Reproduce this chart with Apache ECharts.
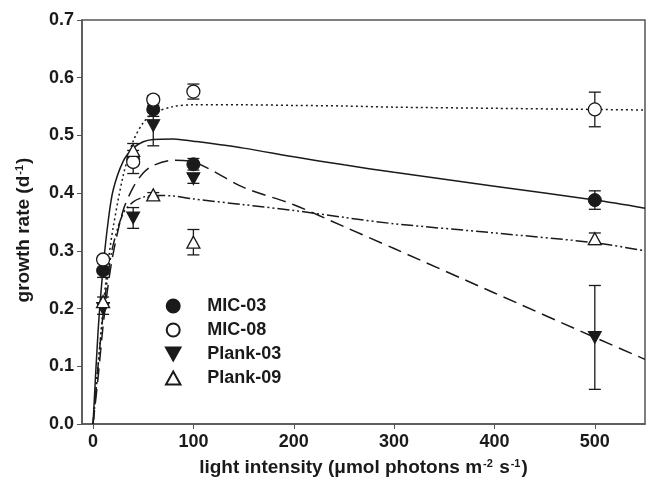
<!DOCTYPE html>
<html>
<head>
<meta charset="utf-8">
<script src="https://cdn.jsdelivr.net/npm/echarts@6/dist/echarts.min.js"></script>
<style>
  html, body { margin: 0; padding: 0; background: #fff; }
  #chart { width: 649px; height: 488px; }
</style>
</head>
<body>
<div id="chart"></div>
<script>
// measured points (light level, mean growth rate, error)
const lightLevels = [10, 40, 60, 100, 500];
const mic03Rate = [0.266, 0.458, 0.545, 0.45, 0.388];
const mic03Err = [0.012, 0.008, 0.012, 0.01, 0.016];
const mic08Rate = [0.285, 0.454, 0.562, 0.576, 0.545];
const mic08Err = [0.006, 0.02, 0.007, 0.013, 0.03];
const plank03Rate = [0.2, 0.357, 0.517, 0.425, 0.15];
const plank03Err = [0.01, 0.018, 0.035, 0.008, 0.09];
const plank09Rate = [0.212, 0.474, 0.397, 0.315, 0.321];
const plank09Err = [0.008, 0.012, 0.004, 0.022, 0.01];

// fitted curves
const fitX = [0, 5, 10, 15, 20, 30, 40, 50, 60, 80, 100, 150, 200, 250, 300, 400, 500, 550];
const fitMic03 = [0, 0.16, 0.27, 0.35, 0.405, 0.455, 0.478, 0.489, 0.493, 0.494, 0.49, 0.478, 0.463, 0.449, 0.436, 0.412, 0.388, 0.374];
const fitMic08 = [0, 0.1, 0.2, 0.28, 0.34, 0.43, 0.49, 0.522, 0.538, 0.55, 0.553, 0.553, 0.552, 0.551, 0.549, 0.547, 0.545, 0.544];
const fitPlank03 = [0, 0.08, 0.17, 0.24, 0.295, 0.37, 0.41, 0.435, 0.448, 0.457, 0.454, 0.41, 0.38, 0.342, 0.304, 0.227, 0.15, 0.112];
const fitPlank09 = [0, 0.1, 0.19, 0.26, 0.31, 0.365, 0.385, 0.393, 0.396, 0.395, 0.39, 0.38, 0.37, 0.358, 0.347, 0.331, 0.314, 0.3];

const xTicks = [0, 100, 200, 300, 400, 500];

const font = 'Liberation Sans, Arial, sans-serif';
const ink = '#1a1a1a';
const downTriangle = 'path://M0,0 L10,0 L5,9 Z';
const upTriangle = 'path://M5,0 L10,9 L0,9 Z';

function pairs(xs, ys) {
  return xs.map((x, i) => [x, ys[i]]);
}

function errData(rates, errs) {
  return lightLevels.map((x, i) => [x, rates[i] - errs[i], rates[i] + errs[i]]);
}

function errorBars(rates, errs) {
  return {
    type: 'custom',
    silent: true,
    z: 3,
    data: errData(rates, errs),
    renderItem(params, api) {
      const lo = api.coord([api.value(0), api.value(1)]);
      const hi = api.coord([api.value(0), api.value(2)]);
      const w = 6;
      const style = { stroke: ink, lineWidth: 1.3 };
      return {
        type: 'group',
        children: [
          { type: 'line', shape: { x1: lo[0], y1: lo[1], x2: hi[0], y2: hi[1] }, style },
          { type: 'line', shape: { x1: lo[0] - w, y1: lo[1], x2: lo[0] + w, y2: lo[1] }, style },
          { type: 'line', shape: { x1: hi[0] - w, y1: hi[1], x2: hi[0] + w, y2: hi[1] }, style }
        ]
      };
    }
  };
}

function fitLine(ys, dash) {
  return {
    type: 'line',
    data: pairs(fitX, ys),
    symbol: 'none',
    smooth: 0.3,
    silent: true,
    z: 2,
    lineStyle: { color: ink, width: 1.5, type: dash }
  };
}

const chart = echarts.init(document.getElementById('chart'));

const option = {
  animation: false,
  backgroundColor: '#fff',
  grid: {
    left: 82, right: 4, top: 20, bottom: 64,
    show: true, borderColor: '#555', borderWidth: 1.5
  },
  legend: {
    orient: 'vertical',
    left: 160,
    top: 292,
    itemWidth: 30,
    itemHeight: 13,
    itemGap: 6,
    data: ['MIC-03', 'MIC-08', 'Plank-03', 'Plank-09'],
    textStyle: { fontFamily: font, fontWeight: 'bold', fontSize: 18, color: ink, padding: [0, 0, 0, 14] }
  },
  xAxis: {
    type: 'value',
    min: -11,
    max: 550,
    name: 'light intensity (\u03bcmol photons m{s|-2} s{s|-1})',
    nameLocation: 'middle',
    nameGap: 34,
    nameTextStyle: {
      fontFamily: font, fontWeight: 'bold', fontSize: 19, color: ink,
      rich: { s: { fontFamily: font, fontWeight: 'bold', fontSize: 11, color: ink, verticalAlign: 'top', padding: [0, 1, 9, 1] } }
    },
    splitLine: { show: false },
    axisLine: { onZero: false, lineStyle: { color: '#555', width: 1.5 } },
    axisTick: { customValues: xTicks, length: 5, lineStyle: { color: '#555' } },
    axisLabel: {
      customValues: xTicks, margin: 9,
      fontFamily: font, fontWeight: 'bold', fontSize: 18, color: ink
    }
  },
  yAxis: {
    type: 'value',
    min: 0,
    max: 0.7,
    interval: 0.1,
    name: '{a|growth rate (d}{s|-1}{a|)}',
    nameLocation: 'middle',
    nameRotate: 90,
    nameGap: 48,
    nameTextStyle: {
      padding: [0, 16, 0, 0],
      rich: {
        a: { fontFamily: font, fontWeight: 'bold', fontSize: 19, color: ink },
        s: { fontFamily: font, fontWeight: 'bold', fontSize: 11, color: ink, padding: [0, 1, 9, 1] }
      }
    },
    splitLine: { show: false },
    axisLine: { show: true, onZero: false, lineStyle: { color: '#555', width: 1.5 } },
    axisTick: { show: true, length: 5, lineStyle: { color: '#555' } },
    axisLabel: {
      margin: 8,
      formatter: v => v.toFixed(1),
      fontFamily: font, fontWeight: 'bold', fontSize: 18, color: ink
    }
  },
  series: [
    fitLine(fitMic03, 'solid'),
    fitLine(fitMic08, [2, 3]),
    fitLine(fitPlank03, [14, 7]),
    fitLine(fitPlank09, [12, 3, 2, 3, 2, 3]),
    errorBars(mic03Rate, mic03Err),
    errorBars(mic08Rate, mic08Err),
    errorBars(plank03Rate, plank03Err),
    errorBars(plank09Rate, plank09Err),
    {
      name: 'MIC-03', type: 'scatter', z: 4,
      data: pairs(lightLevels, mic03Rate),
      symbol: 'circle', symbolSize: 13,
      itemStyle: { color: ink, borderColor: ink, borderWidth: 1, opacity: 1 }
    },
    {
      name: 'MIC-08', type: 'scatter', z: 5,
      data: pairs(lightLevels, mic08Rate),
      symbol: 'circle', symbolSize: 13,
      itemStyle: { color: '#fff', borderColor: ink, borderWidth: 1.3, opacity: 1 }
    },
    {
      name: 'Plank-03', type: 'scatter', z: 4,
      data: pairs(lightLevels, plank03Rate),
      symbol: downTriangle, symbolSize: [13, 12],
      itemStyle: { color: ink, borderColor: ink, borderWidth: 1, opacity: 1 }
    },
    {
      name: 'Plank-09', type: 'scatter', z: 5,
      data: pairs(lightLevels, plank09Rate),
      symbol: upTriangle, symbolSize: [13, 12],
      itemStyle: { color: '#fff', borderColor: ink, borderWidth: 1.3, opacity: 1 }
    }
  ]
};

chart.setOption(option);
</script>
</body>
</html>
